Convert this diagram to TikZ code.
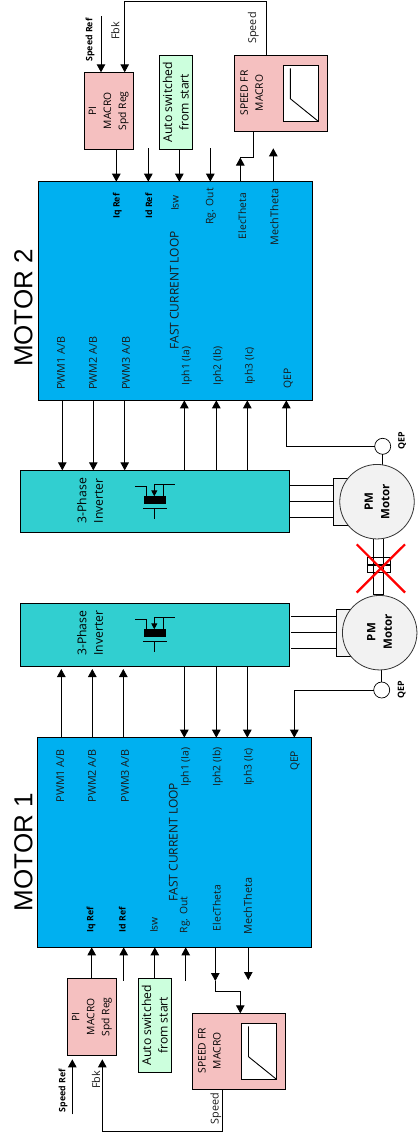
\documentclass[tikz,border=0pt]{standalone}
\usepackage{fontspec}
\setmainfont{Open Sans}
\newfontfamily\titlefont{Liberation Sans}
\usetikzlibrary{arrows.meta, positioning, shapes, calc}
\definecolor{TIblue}{RGB}{0, 176, 240}
\definecolor{TIteal}{RGB}{49, 207, 208}
\definecolor{TIpink}{RGB}{245, 192, 192}
\definecolor{TIgreen}{RGB}{204, 255, 221}
\definecolor{TIgrey}{RGB}{242, 242, 242}

\begin{document}
\begin{tikzpicture}[
    x=1pt, y=-1pt,
    >={Triangle[length=8pt, width=8.5pt]},
    block/.style={
        draw=black,
        line width=0.9pt,
        inner sep=0pt,
        outer sep=0pt
    },
    loopblock/.style={block, fill=TIblue, minimum width=274pt},
    invblock/.style={block, fill=TIteal, minimum width=269pt},
    piblock/.style={block, fill=TIpink, minimum width=49pt, minimum height=77pt},
    frblock/.style={block, fill=TIpink, minimum width=93.4pt, minimum height=76pt},
    autoblock/.style={block, fill=TIgreen, minimum width=33pt, minimum height=94pt},
    plotbox/.style={block, fill=white, minimum width=35pt, minimum height=56pt},
    motorcircle/.style={circle, draw=black!80, line width=0.8pt, fill=TIgrey, minimum size=74.5pt, inner sep=0pt, outer sep=0pt},
    motorbase/.style={block, fill=TIgrey, minimum width=30pt, minimum height=47pt},
    qepcircle/.style={circle, draw=black, line width=0.7pt, fill=white, minimum size=16pt, inner sep=0pt, outer sep=0pt},
    tag/.style={rotate=90, font=\fontsize{10.3}{11}\selectfont, inner sep=0pt, text=black!90},
    wide/.style={font=\fontsize{10.8}{11}\selectfont},
    tagbold/.style={rotate=90, inner sep=0pt, font=\fontsize{8.8}{10}\selectfont\bfseries},
    qeptag/.style={tagbold, font=\fontsize{8.8}{10}\selectfont\bfseries},
    looptag/.style={tag, font=\fontsize{12}{13}\selectfont},
    boxtext/.style={rotate=90, align=center, inner sep=0pt, font=\fontsize{10.3}{15}\selectfont},
    bigtext/.style={rotate=90, align=center, inner sep=0pt, font=\fontsize{12.2}{16.5}\selectfont},
    motortext/.style={rotate=90, align=center, inner sep=0pt, font=\fontsize{11.5}{16.5}\selectfont\bfseries},
    title/.style={rotate=90, inner sep=0pt, font=\titlefont\fontsize{26}{28}\selectfont},
    flow/.style={->, line width=0.9pt},
    line/.style={line width=0.9pt}
]
\useasboundingbox (0,0) rectangle (418,1133);

% motor 2 blocks
\node[loopblock, minimum height=218.6pt] (loopTwo) at (175.5,291) {};
\node[title] (titleTwo) at (23.5,308) {MOTOR 2};
\node[invblock, minimum height=62pt] (invTwo) at (154.8,501.3) {};
\node[piblock] (piTwo) at (108.8,110.8) {};
\node[autoblock] (autoTwo) at (175.8,102.2) {};
\node[frblock] (frTwo) at (281,93.3) {};
\node[plotbox] (plotTwo) at (300.8,93.3) {};
\node[qepcircle] (qepTwo) at (382.7,446.3) {};
\draw[line] (qepTwo.south) -- ++(0,11);
\node[motorbase] (baseTwo) at (348.3,501.8) {};
\node[motorcircle] (motorTwo) at (377,501.7) {};

% motor 1 blocks
\node[loopblock, minimum height=209.6pt] (loopOne) at (174.3,842.5) {};
\node[title] (titleOne) at (23.5,852) {MOTOR 1};
\node[invblock, minimum height=63pt] (invOne) at (154.8,634.8) {};
\node[piblock] (piOne) at (92,1016.8) {};
\node[autoblock] (autoOne) at (154.8,1025.3) {};
\node[frblock] (frOne) at (238.8,1051.3) {};
\node[plotbox] (plotOne) at (259,1051.3) {};
\node[qepcircle] (qepOne) at (381.7,690) {};
\draw[line] (qepOne.north) -- ++(0,-20);
\node[motorbase] (baseOne) at (351.3,632.8) {};
\node[motorcircle] (motorOne) at (379.7,632.7) {};

% labels motor 2
\node[boxtext] at (piTwo) {PI\\MACRO\\Spd Reg};
\node[bigtext] at (autoTwo) {Auto switched\\from start};
\node[boxtext] at (251.7,93) {SPEED FR\\MACRO};
\node[bigtext] at (90,500.7) {3-Phase\\Inverter};
\node[motortext] at (motorTwo) {PM\\Motor};
\node[qeptag] at (402.3,441) {QEP};
\node[tag, wide] at (61,363) {PWM1 A/B};
\node[tag, wide] at (93,363) {PWM2 A/B};
\node[tag, wide] at (126,363) {PWM3 A/B};
\node[looptag] at (174.3,290.3) {FAST CURRENT LOOP};
\node[tag] at (186.7,366) {Iph1 (Ia)};
\node[tag] at (218.3,366) {Iph2 (Ib)};
\node[tag] at (250,366) {Iph3 (Ic)};
\node[tag] at (288.3,378.7) {QEP};
\node[tagbold] at (117.3,206) {Iq Ref};
\node[tagbold] at (148.7,206) {Id Ref};
\node[tag] at (175,203) {Isw};
\node[tag] at (211,206.3) {Rg. Out};
\node[tag] at (242.3,216) {ElecTheta};
\node[tag, wide] at (274.3,217) {MechTheta};
\node[tagbold] at (90,40) {Speed Ref};
\node[tag, wide] at (115.3,31) {Fbk};
\node[tag, wide] at (253.3,28) {Speed};

% labels motor 1
\node[boxtext] at (piOne) {PI\\MACRO\\Spd Reg};
\node[bigtext] at (autoOne) {Auto switched\\from start};
\node[boxtext] at (209.5,1050.8) {SPEED FR\\MACRO};
\node[bigtext] at (90,633.3) {3-Phase\\Inverter};
\node[motortext] at (379.5,632) {PM\\Motor};
\node[qeptag] at (401.7,690) {QEP};
\node[tag, wide] at (60.3,775.8) {PWM1 A/B};
\node[tag, wide] at (92,775.8) {PWM2 A/B};
\node[tag, wide] at (125,775.8) {PWM3 A/B};
\node[looptag] at (173.3,842) {FAST CURRENT LOOP};
\node[tag] at (186,767) {Iph1 (Ia)};
\node[tag] at (217.7,767) {Iph2 (Ib)};
\node[tag] at (249,767) {Iph3 (Ic)};
\node[tag] at (295,761) {QEP};
\node[tagbold] at (91,919.5) {Iq Ref};
\node[tagbold] at (122.3,919.5) {Id Ref};
\node[tag] at (154,925) {Isw};
\node[tag] at (185,915) {Rg. Out};
\node[tag] at (216.7,908) {ElecTheta};
\node[tag, wide] at (247.7,906) {MechTheta};
\node[tagbold] at (63,1090.8) {Speed Ref};
\node[tag, wide] at (96,1080) {Fbk};
\node[tag, wide] at (215.7,1108.7) {Speed};

% plot traces
\draw[line] ([xshift=7pt,yshift=-3pt]plotTwo.north west) -- ++(0,30.4) -- (plotTwo.south east);
\draw[line] ([xshift=7pt,yshift=-3pt]plotOne.north west) -- ++(0,30.4) -- (plotOne.south east);

% inverter symbols
\foreach \fy in {0,133} {
\begin{scope}[yshift=-\fy pt]
    \fill (144,496.3) rectangle (166,503.7);
    \draw[line] (135.3,486.3) -- (146.3,486.3) -- (146.3,496.3);
    \draw[line] (174.7,484.3) -- (154.3,484.3);
    \draw[line] (163.3,484.3) -- (163.3,496.3);
    \draw[flow, -{Triangle[length=6pt, width=6pt]}] (154.3,484.3) -- (154.3,496.3);
    \draw[line] (143.3,508.3) -- (166.7,508.3);
    \draw[line] (154.3,508.3) -- (154.3,518.7);
\end{scope}
}

% loop to inverter
\foreach \px in {62.3,93.3,124.7}
    \draw[flow] (loopTwo.south -| \px,0) -- (invTwo.north -| \px,0);
\foreach \px in {184.3,216.3,247.3} {
    \draw[flow] (invTwo.north -| \px,0) -- (loopTwo.south -| \px,0);
    \draw[flow] (invOne.south -| \px,0) -- (loopOne.north -| \px,0);
}
\foreach \px in {61.3,92.3,123.3}
    \draw[flow, shorten >=2.7pt] (loopOne.north -| \px,0) -- (invOne.south -| \px,0);

% motor wires
\foreach \wy in {485.3,501.3,517.3}
    \draw[line] (invTwo.east |- 0,\wy) -- (baseTwo.west |- 0,\wy);
\foreach \wy in {616.3,632.3,648.3}
    \draw[line, shorten <=1.7pt] (invOne.east |- 0,\wy) -- (baseOne.west |- 0,\wy);

% qep
\draw[flow] (qepTwo.west) -| (loopTwo.south -| 286.3,0);
\draw[flow] (qepOne.west) -| (loopOne.north -| 294.3,0);

% coupling
\node[block, fill=white, minimum width=23pt, minimum height=14.6pt] (coupling) at (378.8,565) {};
\draw[line, line width=1.2pt] (coupling.west) -- (coupling.east);
\draw[line] (373.7,539) -- (373.7,594.3) -- (383.7,594.3) -- (383.7,539);
\draw[red, line width=2.2pt] (356.7,544.3) -- (405,592.5);
\draw[red, line width=2.2pt] (405,544.3) -- (356.7,592.5);

% motor 2 control signals
\coordinate (speedRefTwo) at (101,16);
\coordinate (fbkTopA) at (266,1.5);
\coordinate (fbkTopB) at (124.7,1.5);
\coordinate (idTwo) at (148.3,148.3);
\coordinate (rgTwo) at (210.3,148.3);
\coordinate (elecTwo) at (240.3,157.5);
\coordinate (mechTwo) at (273.3,148.3);
\draw[flow] (speedRefTwo) -- (piTwo.north -| speedRefTwo);
\draw[flow] (frTwo.north -| fbkTopA) -- (fbkTopA) -- (fbkTopB) -- (piTwo.north -| fbkTopB);
\draw[flow] (piTwo.south -| 116.3,0) -- (loopTwo.north -| 116.3,0);
\draw[flow] (idTwo) -- (loopTwo.north -| idTwo);
\draw[flow] (autoTwo.south -| 179.3,0) -- (loopTwo.north -| 179.3,0);
\draw[flow] (rgTwo) -- (loopTwo.north -| rgTwo);
\draw[flow] (loopTwo.north -| elecTwo) -- (elecTwo);
\draw[line] (frTwo.south -| 253.3,0) |- (elecTwo);
\draw[flow] (loopTwo.north -| mechTwo) -- (mechTwo);

% motor 1 control signals
\coordinate (speedRefOne) at (72.3,1114.3);
\coordinate (fbkBotA) at (222.3,1131.3);
\coordinate (fbkBotB) at (102.3,1131.3);
\coordinate (idOne) at (123.7,980.7);
\coordinate (rgOne) at (185.7,980.7);
\coordinate (elecOne) at (215.3,981);
\coordinate (mechOne) at (248.3,980);
\draw[flow, shorten >=4pt] (speedRefOne) -- (piOne.south -| speedRefOne);
\draw[flow, shorten >=4pt] (frOne.south -| fbkBotA) -- (fbkBotA) -- (fbkBotB) -- (piOne.south -| fbkBotB);
\draw[flow] (piOne.north -| 91.7,0) -- (loopOne.south -| 91.7,0);
\draw[flow] (idOne) -- (loopOne.south -| idOne);
\draw[flow] (autoOne.north) -- (loopOne.south -| autoOne);
\draw[flow] (rgOne) -- (loopOne.south -| rgOne);
\draw[flow] (loopOne.south -| elecOne) -- (elecOne);
\draw[flow] (elecOne) -- ++(0,10.3) -- (240.3,991.3) -- (frOne.north -| 240.3,0);
\draw[flow] (loopOne.south -| mechOne) -- (mechOne);
\end{tikzpicture}
\end{document}
